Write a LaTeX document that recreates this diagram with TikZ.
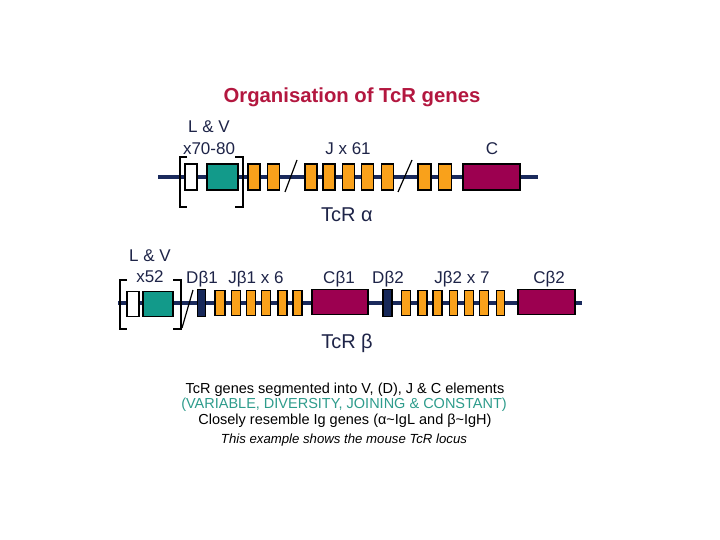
\documentclass[tikz,border=0pt]{standalone}
\usepackage{fontspec}
\setmainfont{Liberation Sans}
\definecolor{titlered}{HTML}{B3173F}
\definecolor{labnavy}{HTML}{1E2448}
\definecolor{bbnavy}{HTML}{1A2A5C}
\definecolor{vteal}{HTML}{129A8A}
\definecolor{cmaroon}{HTML}{9C0050}
\definecolor{jorange}{HTML}{F9A11B}
\definecolor{dnavy}{HTML}{172859}
\definecolor{txteal}{HTML}{2E9C8C}
\begin{document}
\begin{tikzpicture}[x=1pt,y=-1pt,
  gene/.style={rectangle,draw=black,line width=1.4pt,inner sep=0pt,outer sep=0pt},
  arow/.style={gene,minimum height=26pt},
  brow/.style={gene,minimum height=25pt},
  lseg/.style={fill=white},
  vseg/.style={fill=vteal},
  jseg/.style={fill=jorange},
  cseg/.style={fill=cmaroon},
  dseg/.style={fill=dnavy},
  backbone/.style={draw=bbnavy,line width=3.5pt},
  brk/.style={draw=black,line width=1.3pt},
  slash/.style={draw=black,line width=1.2pt},
  lab/.style={anchor=base,text=labnavy,font=\fontsize{17}{19}\selectfont,inner sep=0pt},
  locus/.style={anchor=base,text=labnavy,font=\fontsize{20}{22}\selectfont,inner sep=0pt},
  note/.style={anchor=base,text=black,font=\fontsize{14.5}{16}\selectfont,inner sep=0pt}
]
\useasboundingbox[fill=white] (0,0) rectangle (720,540);

% title
\node[anchor=base,text=titlered,font=\bfseries\fontsize{20.3}{23}\selectfont,inner sep=0pt] (title) at (352,103) {Organisation of TcR genes};

% ---------------- TcR alpha ----------------
\coordinate (as) at (158,177);
\coordinate (ae) at (538,177);
\draw[backbone] (as) -- (ae);

\node[arow,lseg,minimum width=12pt] (aL) at (191,177) {};
\node[arow,vseg,minimum width=31pt] (aV) at (222.5,177) {};
\node[arow,jseg,minimum width=12pt] (aJ1) at (254,177) {};
\node[arow,jseg,minimum width=12pt] (aJ2) at (273.5,177) {};
\node[arow,jseg,minimum width=12pt] (aJ3) at (311,177) {};
\node[arow,jseg,minimum width=12pt] (aJ4) at (329,177) {};
\node[arow,jseg,minimum width=12pt] (aJ5) at (348.5,177) {};
\node[arow,jseg,minimum width=12pt] (aJ6) at (367.5,177) {};
\node[arow,jseg,minimum width=12pt] (aJ7) at (387.5,177) {};
\node[arow,jseg,minimum width=13pt] (aJ8) at (424.5,177) {};
\node[arow,jseg,minimum width=13pt] (aJ9) at (445,177) {};
\node[arow,cseg,minimum width=57pt] (aC) at (491.5,177) {};

% brackets
\draw[brk] (187,157) -- (180,157) -- (180,207) -- (187,207);
\draw[brk] (235,157) -- (243,157) -- (243,207) -- (235,207);
% slashes
\draw[slash] (285,192) -- (297,160);
\draw[slash] (398,192) -- (412,160);

\node[lab] (aLV) at (209,133) {L \& V};
\node[lab] (aLVn) at (209,155) {x70-80};
\node[lab] (aJl) at (348,155) {J x 61};
\node[lab] (aCl) at (492,155) {C};
\node[locus] (aname) at (347,222) {TcR α};

% ---------------- TcR beta ----------------
\coordinate (bs) at (118,303);
\coordinate (be) at (582,303);
\draw[backbone] (bs) -- (be);

\node[brow,lseg,minimum width=12pt] (bL) at (133,304) {};
\node[brow,vseg,minimum width=30pt] (bV) at (158,304) {};
\node[gene,dseg,minimum height=27pt,minimum width=8pt] (bD1) at (201.5,303) {};
\node[brow,jseg,minimum width=10pt] (bJa) at (220,303) {};
\node[brow,jseg,minimum width=9pt] (bJb) at (236,303) {};
\node[brow,jseg,minimum width=9pt] (bJc) at (251,303) {};
\node[brow,jseg,minimum width=9pt] (bJd) at (266,303) {};
\node[brow,jseg,minimum width=9pt] (bJe) at (282.5,303) {};
\node[brow,jseg,minimum width=9pt] (bJf) at (297.5,303) {};
\node[brow,cseg,minimum width=56pt] (bC1) at (340,302) {};
\node[gene,dseg,minimum height=27pt,minimum width=9pt] (bD2) at (387.5,303) {};
\node[brow,jseg,minimum width=9pt] (bJg) at (406,303) {};
\node[brow,jseg,minimum width=9pt] (bJh) at (422.5,303) {};
\node[brow,jseg,minimum width=9pt] (bJi) at (437.5,303) {};
\node[brow,jseg,minimum width=8pt] (bJj) at (453.5,303) {};
\node[brow,jseg,minimum width=9pt] (bJk) at (469,303) {};
\node[brow,jseg,minimum width=9pt] (bJl) at (484,303) {};
\node[brow,jseg,minimum width=8pt] (bJm) at (500.5,303) {};
\node[brow,cseg,minimum width=57pt] (bC2) at (546.5,302) {};

% brackets
\draw[brk] (127,280) -- (120,280) -- (120,329) -- (127,329);
\draw[brk] (173,280) -- (181,280) -- (181,329) -- (173,329);
% slash
\draw[slash] (182,328) -- (193,290);

\node[lab] (bLV) at (150,261) {L \& V};
\node[lab] (bLVn) at (150,282) {x52};
\node[lab] (bD1l) at (202,283) {Dβ1};
\node[lab] (bJ1l) at (256,283) {Jβ1 x 6};
\node[lab] (bC1l) at (339,283) {Cβ1};
\node[lab] (bD2l) at (388,283) {Dβ2};
\node[lab] (bJ2l) at (462,283) {Jβ2 x 7};
\node[lab] (bC2l) at (549,283) {Cβ2};
\node[locus] (bname) at (347,348) {TcR β};

% ---------------- notes ----------------
\node[note] (n1) at (345,393) {TcR genes segmented into V, (D), J \& C elements};
\node[note,text=txteal] (n2) at (344,408) {(VARIABLE, DIVERSITY, JOINING \& CONSTANT)};
\node[note] (n3) at (345,424) {Closely resemble Ig genes (α\textasciitilde IgL and β\textasciitilde IgH)};
\node[anchor=base,inner sep=0pt,font=\itshape\fontsize{13.2}{15}\selectfont] (n4) at (344,443) {This example shows the mouse TcR locus};
\end{tikzpicture}
\end{document}
